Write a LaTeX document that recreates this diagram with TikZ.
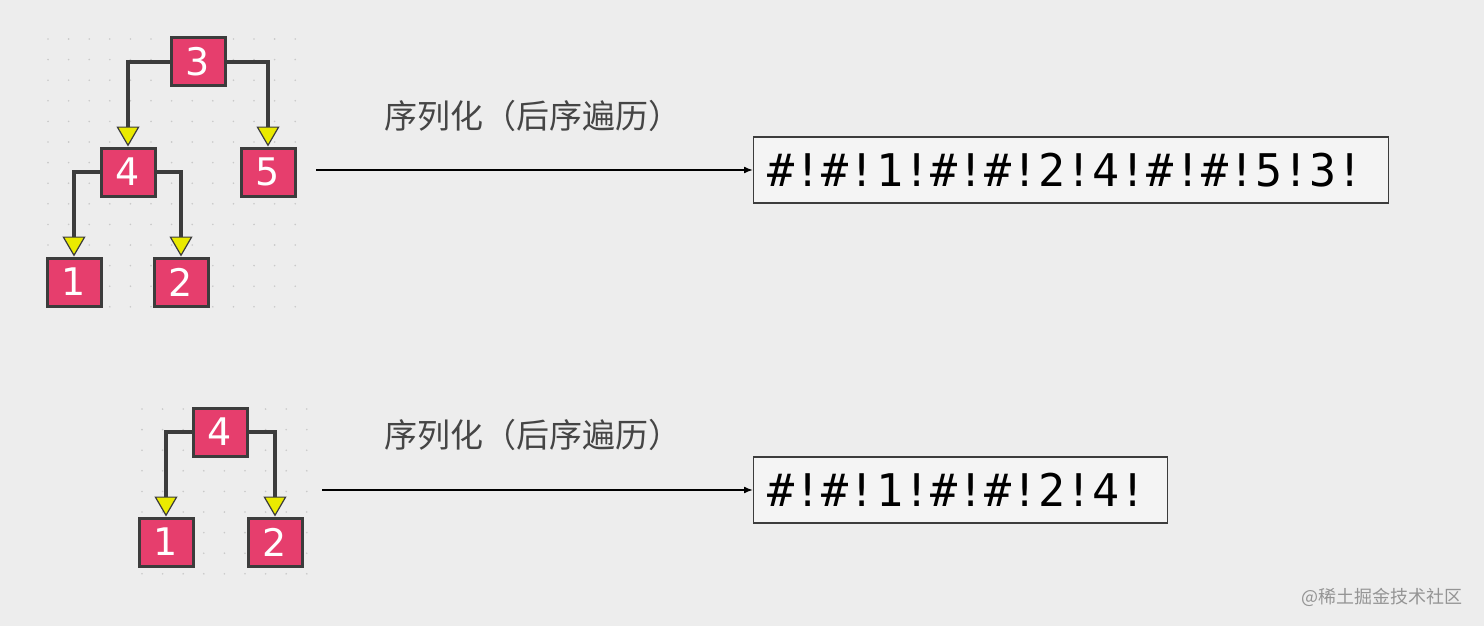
\documentclass[tikz,border=0pt]{standalone}
\usepackage{fontspec}
\setmainfont{DejaVu Sans}
\newfontfamily\cjk{Noto Sans CJK SC}
\newfontfamily\monof{DejaVu Sans Mono}
\newfontfamily\digf{DejaVu Sans}
\usetikzlibrary{arrows.meta}
\definecolor{bg}{HTML}{EDEDED}
\definecolor{nodefill}{HTML}{E63E6D}
\definecolor{edgecol}{HTML}{3C3C3C}
\definecolor{tipfill}{HTML}{EAEA00}
\definecolor{dotcol}{HTML}{C9C9C9}
\definecolor{labcol}{HTML}{454545}
\tikzset{
  tnode/.style={rectangle, draw=edgecol, line width=3pt, fill=nodefill,
    minimum width=54pt, minimum height=48pt, inner sep=0pt,
    text=white, font=\digf\fontsize{38}{42}\selectfont},
  tedge/.style={draw=edgecol, line width=4pt,
    -{Triangle[width=23pt,length=20pt,line width=1.2pt,color=edgecol,fill=tipfill]}},
  serarrow/.style={draw=black, line width=1.6pt, -{Latex[length=9pt,width=7pt]}},
  outbox/.style={rectangle, draw=edgecol, line width=1.3pt, fill=bg!60!white,
    inner sep=0pt, anchor=west, text=black, font=\monof\fontsize{45}{50}\selectfont},
  lab/.style={text=labcol, font=\cjk\fontsize{33}{37}\selectfont},
}
\begin{document}
\begin{tikzpicture}[x=1pt,y=-1pt]
\fill[bg] (0,0) rectangle (1484,626);
\useasboundingbox (0,0) rectangle (1484,626);
% dot grids
\foreach \i in {0,...,12} \foreach \j in {0,...,13}
  \fill[dotcol] (48+20.6*\i,39+20.6*\j) circle (0.9pt);
\foreach \i in {0,...,8} \foreach \j in {0,...,8}
  \fill[dotcol] (142+20.6*\i,409+20.6*\j) circle (0.9pt);
% top tree
\node[tnode] (a3) at (198,62) {3};
\node[tnode] (a4) at (128,172) {4};
\node[tnode] (a5) at (268,172) {5};
\node[tnode] (a1) at (74,282) {1};
\node[tnode] (a2) at (181,282) {2};
\draw[tedge] (a3.west) -| (a4.north);
\draw[tedge] (a3.east) -| (a5.north);
\draw[tedge] (a4.west) -| (a1.north);
\draw[tedge] (a4.east) -| (a2.north);
% bottom tree
\node[tnode] (b4) at (220,432) {4};
\node[tnode] (b1) at (166,542) {1};
\node[tnode] (b2) at (275,542) {2};
\draw[tedge] (b4.west) -| (b1.north);
\draw[tedge] (b4.east) -| (b2.north);
% labels
\node[lab, anchor=west] (l1) at (381,116) {序列化（后序遍历）};
\node[lab, anchor=west] (l2) at (381,435) {序列化（后序遍历）};
% output boxes
\node[outbox, minimum width=635pt, minimum height=66pt, text width=635pt, align=left] (o1) at (753,170) {\hspace{14pt}\#!\#!1!\#!\#!2!4!\#!\#!5!3!};
\node[outbox, minimum width=414pt, minimum height=66pt, text width=414pt, align=left] (o2) at (753,490) {\hspace{14pt}\#!\#!1!\#!\#!2!4!};
% arrows
\coordinate (s1) at (316,170);
\coordinate (s2) at (322,490);
\draw[serarrow] (s1) -- (o1.west);
\draw[serarrow] (s2) -- (o2.west);
% watermark
\node[anchor=east, text=black!42, font=\cjk\fontsize{18}{22}\selectfont] (wm) at (1466,597) {@稀土掘金技术社区};
\end{tikzpicture}
\end{document}
